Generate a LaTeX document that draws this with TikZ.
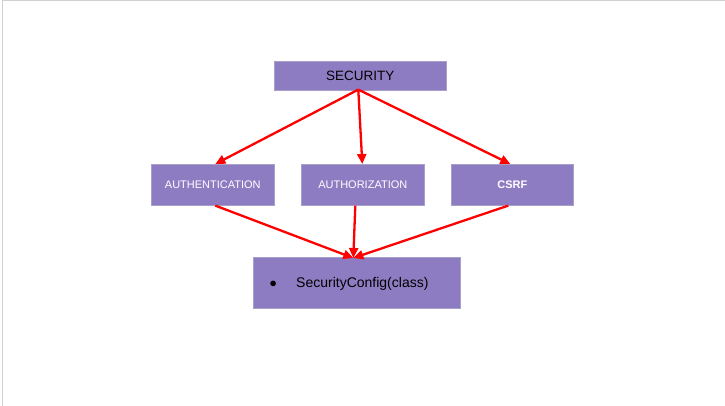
\documentclass[tikz,border=0pt]{standalone}
\usepackage{fontspec}
\setmainfont{Liberation Sans}
\usetikzlibrary{arrows.meta}
\definecolor{boxfill}{HTML}{8E7CC3}
\definecolor{boxline}{HTML}{A8A0C8}
\definecolor{frameline}{HTML}{D0D0D0}
\tikzset{
  box/.style={draw=boxline, line width=0.6pt, fill=boxfill, inner sep=0pt, anchor=north west},
  redarrow/.style={draw=red, line width=2.3pt, -{Triangle[length=10pt,width=9pt]}}
}
\begin{document}
\begin{tikzpicture}[x=1pt,y=-1pt]
\useasboundingbox (0,0) rectangle (725,406);
\fill[white] (0,0) rectangle (725,406);
\draw[frameline, line width=1.2pt] (2.5,406) -- (2.5,0.6) -- (725,0.6);
\node[box, minimum width=172pt, minimum height=29pt, font=\fontsize{13.5}{15}\selectfont] (sec) at (274,61) {SECURITY};
\node[box, minimum width=123pt, minimum height=41pt, text=white, font=\fontsize{11}{12}\selectfont] (auth) at (151,164) {AUTHENTICATION};
\node[box, minimum width=123pt, minimum height=41pt, text=white, font=\fontsize{11}{12}\selectfont] (authz) at (301,164) {AUTHORIZATION};
\node[box, minimum width=122pt, minimum height=41pt, text=white, font=\bfseries\fontsize{11}{12}\selectfont] (csrf) at (451,164) {CSRF};
\node[box, minimum width=207pt, minimum height=51pt] (cfg) at (253,257) {};
\node[font=\fontsize{13.5}{15}\selectfont, anchor=west] (bul) at (266,284) {$\bullet$};
\node[font=\fontsize{14}{15}\selectfont, anchor=west, inner sep=0pt] (cfgtext) at (296,284) {SecurityConfig(class)};
\draw[redarrow] ([xshift=-2pt,yshift=1pt]sec.south) -- ([xshift=2.5pt]auth.north);
\draw[redarrow] ([xshift=-2pt,yshift=1pt]sec.south) -- ([xshift=-0.5pt]authz.north);
\draw[redarrow] ([xshift=-2pt,yshift=1pt]sec.south) -- ([xshift=-2pt]csrf.north);
\draw[redarrow] ([xshift=2.5pt]auth.south) -- ([xshift=-3.5pt,yshift=-1pt]cfg.north);
\draw[redarrow] ([xshift=-7.5pt]authz.south) -- ([xshift=-3.5pt,yshift=-1pt]cfg.north);
\draw[redarrow] ([xshift=-4pt]csrf.south) -- ([xshift=-3.5pt,yshift=-1pt]cfg.north);
\end{tikzpicture}
\end{document}
